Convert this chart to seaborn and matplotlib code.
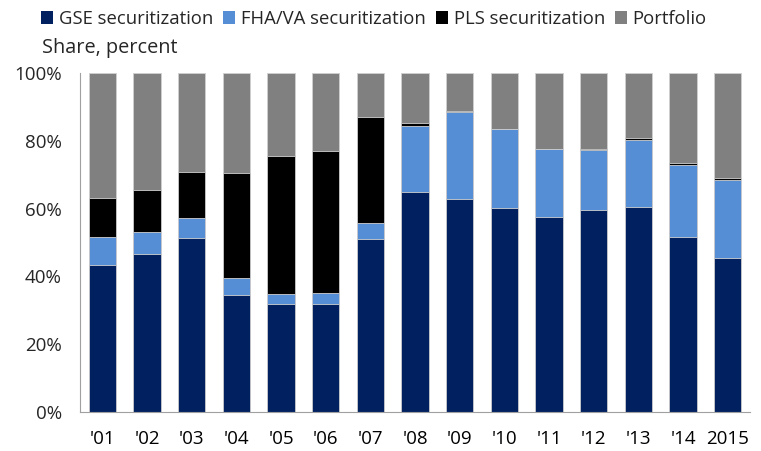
import seaborn as sns
import pandas as pd
import matplotlib.pyplot as plt
from matplotlib.patches import Patch
from matplotlib.ticker import PercentFormatter, FixedLocator

years = ["'01", "'02", "'03", "'04", "'05", "'06", "'07", "'08",
         "'09", "'10", "'11", "'12", "'13", "'14", "2015"]
gse = [43.5, 46.7, 51.2, 34.6, 31.8, 32.0, 51.1, 64.9, 62.9, 60.3, 57.6, 59.5, 60.5, 51.7, 45.5]
fha = [8.2, 6.3, 6.0, 5.0, 3.1, 3.2, 4.7, 19.4, 25.4, 23.0, 19.8, 17.7, 19.8, 21.2, 22.9]
pls = [11.5, 12.5, 13.6, 30.9, 40.6, 41.8, 31.2, 0.8, 0.3, 0.1, 0.1, 0.3, 0.6, 0.5, 0.7]
portfolio = [36.8, 34.5, 29.2, 29.5, 24.5, 23.0, 13.0, 14.9, 11.4, 16.6, 22.5, 22.5, 19.1, 26.6, 30.9]

series = ["GSE securitization", "FHA/VA securitization", "PLS securitization", "Portfolio"]
colors = ["#002060", "#558ED5", "#000000", "#808080"]

df = pd.DataFrame({"year": years, "GSE securitization": gse,
                   "FHA/VA securitization": fha, "PLS securitization": pls,
                   "Portfolio": portfolio})
cum = df[series].cumsum(axis=1)

sns.set_style("white")
plt.rcParams["font.family"] = ["Open Sans", "DejaVu Sans"]

fig = plt.figure(figsize=(7.61, 4.51), dpi=100)
ax = fig.add_axes([80 / 761, 1 - 412.3 / 451, 670 / 761, 339.6 / 451])

# draw cumulative totals back to front so they look stacked
for name, col in reversed(list(zip(series, colors))):
    sns.barplot(x=df["year"], y=cum[name], color=col, width=0.61,
                edgecolor="#d0d0d0", linewidth=0.6, ax=ax, saturation=1)

ax.set_ylim(0, 100)
ax.set_xlim(-0.5, 14.5)
ax.yaxis.set_major_locator(FixedLocator([0, 20, 40, 60, 80, 100]))
ax.yaxis.set_major_formatter(PercentFormatter(decimals=0))
ax.set_xlabel("")
ax.set_ylabel("")
ax.xaxis.set_minor_locator(FixedLocator([i - 0.5 for i in range(16)]))
ax.tick_params(axis="x", which="major", length=0, labelsize=13.5, pad=13, colors="black")
ax.tick_params(axis="x", which="minor", length=7, width=0.8, color="#a0a0a0")
ax.tick_params(axis="y", length=7, width=0.8, color="#a0a0a0", labelsize=13.5, pad=6)
for side in ["top", "right"]:
    ax.spines[side].set_visible(False)
for side in ["left", "bottom"]:
    ax.spines[side].set_color("#a0a0a0")
    ax.spines[side].set_linewidth(0.8)

handles = [Patch(facecolor=c, edgecolor="none") for c in colors]
fig.legend(handles, series, loc="center", bbox_to_anchor=(374 / 761, 1 - 19 / 451),
           ncol=4, frameon=False, fontsize=13.3, handlelength=0.65, handleheight=0.65,
           handletextpad=0.3, columnspacing=0.55, borderaxespad=0)
fig.text(42 / 761, 1 - 48 / 451, "Share, percent", fontsize=14.3, va="center", ha="left")

fig.savefig("out.png", dpi=100)
